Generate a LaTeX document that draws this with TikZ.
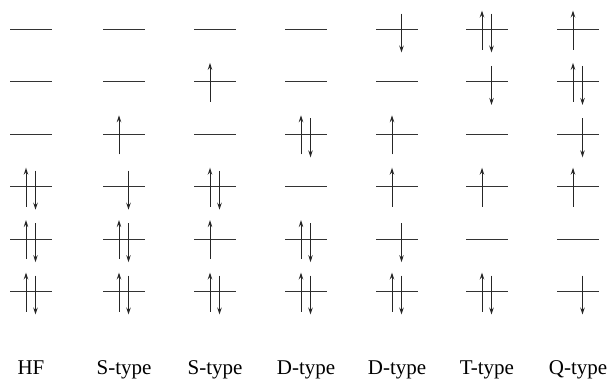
\documentclass[tikz,border=0pt]{standalone}
\usepackage{fontspec}
\setmainfont{Liberation Serif}
\usepackage{tikz}
\usetikzlibrary{arrows.meta}

\tikzset{
  level/.style={-,line width=1pt,black!80},
  spin/.style={->,line width=1pt,black!85},
  typelabel/.style={anchor=base,inner sep=0pt,font=\fontsize{21}{25}\selectfont}
}

\begin{document}
\begin{tikzpicture}[x=1pt,y=-1pt,>={Stealth[length=7pt,width=4.5pt,inset=2.5pt]}]
  \useasboundingbox (0,0) rectangle (609,378);

  % orbital levels
  \foreach \x [count=\c] in {31,124,215,306,397,487,578}
    \foreach \y [count=\r] in {29.5,81.9,134.3,186.7,239.1,291.5} {
      \coordinate (l\c\r) at (\x,\y);
      \draw[level] (l\c\r) ++(-21,0) -- ++(42,0);
    }

  % spin up
  \foreach \c/\r in {1/4,1/5,1/6,2/3,2/5,2/6,3/2,3/4,3/5,3/6,4/3,4/5,4/6,
                     5/3,5/4,5/6,6/1,6/4,6/6,7/1,7/2,7/4}
    \draw[spin] (l\c\r) ++(-5,20) -- ++(0,-39);

  % spin down
  \foreach \c/\r in {1/4,1/5,1/6,2/4,2/5,2/6,3/4,3/6,4/3,4/5,4/6,
                     5/1,5/5,5/6,6/1,6/2,6/6,7/2,7/3,7/6}
    \draw[spin] (l\c\r) ++(4.5,-16) -- ++(0,39);

  % labels
  \foreach \t [count=\c] in {HF,S-type,S-type,D-type,D-type,T-type,Q-type}
    \node[typelabel] (lab\c) at ([yshift=-82.5pt]l\c6) {\t};
\end{tikzpicture}
\end{document}
